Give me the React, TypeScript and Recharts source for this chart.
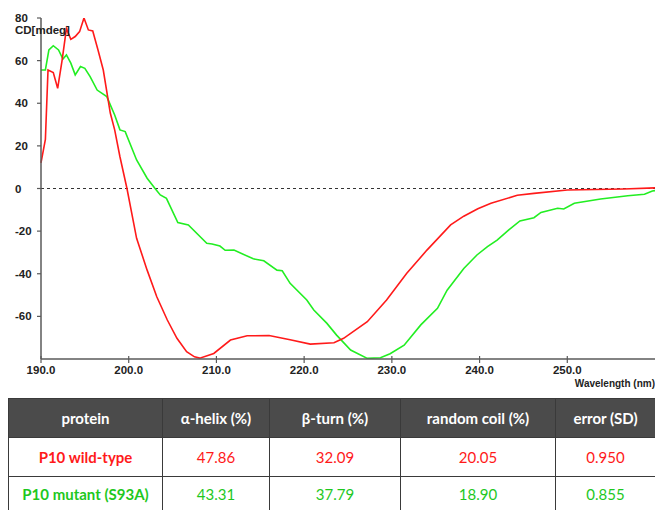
import React from 'react';
import { LineChart, Line, XAxis, YAxis, ReferenceLine } from 'recharts';

const wildTypeWavelength = [190.0, 190.5, 190.8, 191.4, 191.9, 192.4, 192.9, 193.4, 193.9, 194.4, 194.9, 195.4, 195.9, 196.5, 197.1, 197.9, 198.4, 199.0, 199.8, 200.9, 202.1, 203.2, 204.4, 205.5, 206.6, 207.5, 208.1, 209.7, 211.6, 213.5, 216.0, 218.4, 220.7, 223.4, 224.5, 227.2, 229.4, 231.7, 234.0, 236.7, 238.2, 239.8, 241.3, 244.3, 246.2, 250.0, 256.4, 260.0];
const wildTypeCD = [12, 23, 55.6, 54.4, 47, 60, 75, 70, 71.3, 73.6, 80, 74.4, 73.9, 65, 55.6, 35.4, 27.5, 14.9, 0, -23.4, -38.3, -50.8, -61.7, -70.3, -76.6, -79, -79.6, -77.4, -71.1, -69.1, -69, -71, -73, -72.4, -70.3, -62.5, -52.3, -39.8, -28.9, -17.1, -13, -9.5, -6.9, -3.2, -2.3, -0.7, -0.2, 0.3];

const mutantWavelength = [190.0, 190.5, 190.9, 191.4, 192.0, 192.5, 192.9, 193.4, 193.9, 194.5, 195.0, 195.6, 196.4, 197.5, 198.4, 199.0, 199.6, 200.9, 202.1, 203.0, 203.6, 204.3, 205.6, 206.8, 208.9, 209.5, 210.4, 211.0, 212.0, 214.2, 215.4, 216.9, 217.5, 218.4, 220.3, 221.1, 222.6, 223.7, 225.3, 227.2, 228.7, 229.8, 231.4, 233.3, 235.2, 236.3, 238.2, 239.7, 240.9, 242.0, 243.3, 244.6, 246.2, 247.0, 248.9, 249.6, 250.8, 253.8, 256.9, 258.8, 259.7, 260.0];
const mutantCD = [55.6, 55.6, 65, 67, 65, 60.7, 62.7, 58.8, 53.3, 57.2, 56.4, 52.5, 46.2, 43.1, 34.5, 27.5, 26.7, 13.4, 4.8, 0, -3, -4.6, -16, -17.1, -25.7, -26, -27, -29, -28.9, -33, -33.9, -38.3, -38.6, -44.5, -52.3, -57, -63.3, -68.8, -75.8, -79.7, -79.4, -77.5, -73.5, -64, -56.2, -47.7, -37.5, -31.2, -27.3, -24.2, -19.5, -15.2, -13.7, -11.2, -9.3, -9.6, -6.9, -4.9, -3.4, -2.7, -1.2, -1];

const xTicks = [190, 200, 210, 220, 230, 240, 250];
const yTicks = [-60, -40, -20, 0, 20, 40, 60, 80];

const tableHeaders = ['protein', 'α-helix (%)', 'β-turn (%)', 'random coil (%)', 'error (SD)'];
const wildTypeRow = ['P10 wild-type', '47.86', '32.09', '20.05', '0.950'];
const mutantRow = ['P10 mutant (S93A)', '43.31', '37.79', '18.90', '0.855'];

const wildData = wildTypeWavelength.map((w, i) => ({ w, cd: wildTypeCD[i] }));
const mutantData = mutantWavelength.map((w, i) => ({ w, cd: mutantCD[i] }));

const axisFont = '"Liberation Sans", Arial, sans-serif';
const axisColor = '#5a5a5a';

const XTick = (props: any) => {
  const { x, y, payload } = props;
  return (
    <g>
      <line x1={x} x2={x} y1={y - 3} y2={y + 4} stroke={axisColor} strokeWidth={1.2} />
      <text x={x} y={y + 15} textAnchor="middle" fontFamily={axisFont} fontWeight="bold" fontSize={11.5} fill="#222">
        {Number(payload.value).toFixed(1)}
      </text>
    </g>
  );
};

const YTick = (props: any) => {
  const { x, y, payload } = props;
  return (
    <g>
      <line x1={x - 4} x2={x} y1={y} y2={y} stroke={axisColor} strokeWidth={1.2} />
      <text x={15} y={y + 4} textAnchor="start" fontFamily={axisFont} fontWeight="bold" fontSize={11.5} fill="#222">
        {payload.value}
      </text>
    </g>
  );
};

const cellBorder = '1px solid #3a3a3a';
const colWidths = [154, 107, 131, 155, 100];

export default function App() {
  return (
    <div style={{ position: 'absolute', left: 0, top: 0, width: 655, height: 510, overflow: 'hidden', background: '#fff' }}>
      <div style={{ position: 'absolute', left: 0, top: 0 }}>
        <LineChart width={655} height={395} margin={{ top: 18, right: 0, bottom: 0, left: 0 }}>
          <XAxis
            dataKey="w"
            type="number"
            domain={[190, 260]}
            ticks={xTicks}
            tick={<XTick />}
            tickLine={false}
            tickSize={0}
            tickMargin={0}
            height={36}
            axisLine={{ stroke: axisColor, strokeWidth: 1.5 }}
            allowDuplicatedCategory={false}
          />
          <YAxis
            type="number"
            domain={[-80, 80]}
            ticks={yTicks}
            tick={<YTick />}
            tickLine={false}
            tickSize={0}
            tickMargin={0}
            width={41}
            allowDataOverflow
            axisLine={{ stroke: axisColor, strokeWidth: 1.5 }}
          />
          <ReferenceLine y={0} stroke="#333" strokeDasharray="3 3" strokeWidth={1} />
          <Line data={mutantData} dataKey="cd" type="linear" stroke="#22ee22" strokeWidth={1.6} dot={false} isAnimationActive={false} />
          <Line data={wildData} dataKey="cd" type="linear" stroke="#ff1a1a" strokeWidth={1.6} dot={false} isAnimationActive={false} />
        </LineChart>
      </div>
      <div style={{ position: 'absolute', left: 15, top: 23, fontFamily: axisFont, fontWeight: 'bold', fontSize: 11.5, color: '#222', lineHeight: '14px' }}>
        CD[mdeg]
      </div>
      <div style={{ position: 'absolute', right: 0, top: 377, fontFamily: axisFont, fontWeight: 'bold', fontSize: 10, color: '#222', lineHeight: '13px' }}>
        Wavelength (nm)
      </div>
      <table
        style={{
          position: 'absolute',
          left: 8,
          top: 398,
          width: 648,
          borderCollapse: 'collapse',
          tableLayout: 'fixed',
          fontFamily: 'Lato, "Open Sans", sans-serif',
          fontSize: 15,
          textAlign: 'center',
        }}
      >
        <colgroup>
          {colWidths.map((w, i) => (
            <col key={i} style={{ width: w }} />
          ))}
        </colgroup>
        <tbody>
          <tr style={{ height: 39, background: '#4b4b4b' }}>
            {tableHeaders.map((h, i) => (
              <td key={i} style={{ border: cellBorder, color: '#fff', fontWeight: 'bold', padding: 0 }}>{h}</td>
            ))}
          </tr>
          <tr style={{ height: 39 }}>
            {wildTypeRow.map((v, i) => (
              <td key={i} style={{ border: cellBorder, color: '#ff1a1a', fontWeight: i === 0 ? 'bold' : 'normal', padding: 0 }}>{v}</td>
            ))}
          </tr>
          <tr style={{ height: 35 }}>
            {mutantRow.map((v, i) => (
              <td key={i} style={{ border: cellBorder, borderBottom: 'none', color: '#1ec81e', fontWeight: i === 0 ? 'bold' : 'normal', padding: 0 }}>{v}</td>
            ))}
          </tr>
        </tbody>
      </table>
    </div>
  );
}
